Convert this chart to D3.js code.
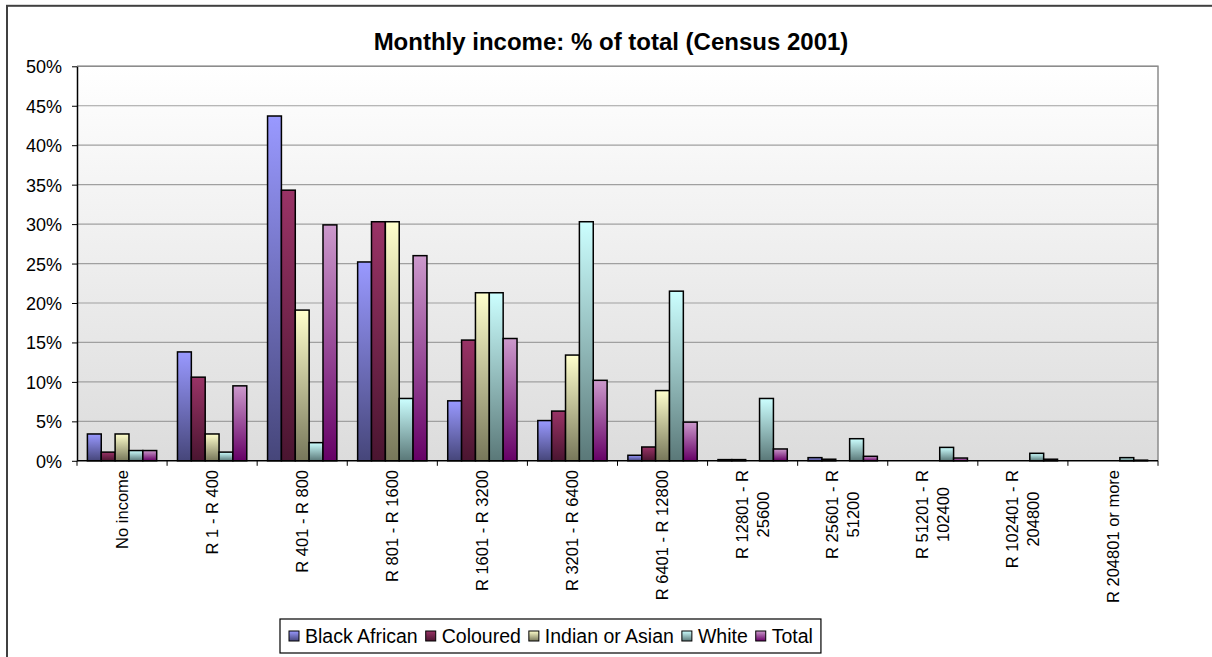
<!DOCTYPE html>
<html>
<head>
<meta charset="utf-8">
<script src="https://cdn.jsdelivr.net/npm/d3@7/dist/d3.min.js"></script>
<style>
  html, body { margin: 0; padding: 0; background: #ffffff; }
  svg { display: block; font-family: "Liberation Sans", Arial, sans-serif; }
</style>
</head>
<body>
<svg id="chart" width="1212" height="657"></svg>
<script>
// Income bands (Census 2001); "\n" marks where a tick label wraps
const categories = [
  "No income", "R 1 - R 400", "R 401 - R 800", "R 801 - R 1600",
  "R 1601 - R 3200", "R 3201 - R 6400", "R 6401 - R 12800",
  "R 12801 - R\n25600", "R 25601 - R\n51200", "R 51201 - R\n102400",
  "R 102401 - R\n204800", "R 204801 or more"
];

const seriesNames = ["Black African", "Coloured", "Indian or Asian", "White", "Total"];

// Share of each population group in each income band, in percent
const blackAfrican = [3.4, 13.8, 43.7, 25.2, 7.6, 5.1, 0.7, 0.15, 0.4, 0, 0, 0];
const coloured     = [1.1, 10.6, 34.3, 30.3, 15.3, 6.3, 1.75, 0.15, 0.2, 0, 0, 0];
const indianAsian  = [3.4, 3.4, 19.1, 30.3, 21.3, 13.4, 8.9, 0, 0, 0, 0, 0];
const white        = [1.3, 1.1, 2.3, 7.9, 21.3, 30.3, 21.5, 7.9, 2.8, 1.7, 0.95, 0.4];
const total        = [1.3, 9.5, 29.9, 26.0, 15.5, 10.2, 4.9, 1.5, 0.57, 0.35, 0.2, 0.08];

const yTicks = [0, 5, 10, 15, 20, 25, 30, 35, 40, 45, 50];

const seriesValues = [blackAfrican, coloured, indianAsian, white, total];

// Light (top) and dark (bottom) stop of each series' bar gradient
const lightColors = ["#9999ff", "#993366", "#ffffcc", "#ccffff", "#cc99cc"];
const darkColors  = ["#46467a", "#4a1530", "#77775a", "#5a7878", "#660066"];

const svg = d3.select("#chart");
const defs = svg.append("defs");

const plotGrad = defs.append("linearGradient")
  .attr("id", "plotBg").attr("x1", 0).attr("y1", 0).attr("x2", 0).attr("y2", 1);
plotGrad.append("stop").attr("offset", "0%").attr("stop-color", "#ffffff");
plotGrad.append("stop").attr("offset", "100%").attr("stop-color", "#dcdcdc");

seriesNames.forEach((s, i) => {
  const g = defs.append("linearGradient")
    .attr("id", "grad" + i).attr("x1", 0).attr("y1", 0).attr("x2", 0).attr("y2", 1);
  g.append("stop").attr("offset", "0%").attr("stop-color", lightColors[i]);
  g.append("stop").attr("offset", "100%").attr("stop-color", darkColors[i]);
});

// Outer chart frame
svg.append("rect")
  .attr("x", 7).attr("y", 5.8).attr("width", 1240).attr("height", 700)
  .attr("fill", "#ffffff").attr("stroke", "#404040").attr("stroke-width", 2);

const plot = { left: 77, right: 1158, top: 66.3, bottom: 460.8 };

const x0 = d3.scaleBand().domain(categories).range([plot.left, plot.right])
  .paddingInner(0).paddingOuter(0);
const x1 = d3.scaleBand().domain(seriesNames).range([0, x0.bandwidth()])
  .paddingInner(0).paddingOuter(0.75);
const y = d3.scaleLinear().domain([0, 50]).range([plot.bottom, plot.top]);

// Plot area
svg.append("rect")
  .attr("x", plot.left).attr("y", plot.top)
  .attr("width", plot.right - plot.left).attr("height", plot.bottom - plot.top)
  .attr("fill", "url(#plotBg)");

// Horizontal gridlines
svg.append("g").selectAll("line").data(yTicks.filter(t => t > 0)).join("line")
  .attr("x1", plot.left).attr("x2", plot.right)
  .attr("y1", d => y(d)).attr("y2", d => y(d))
  .attr("stroke", "#a0a0a0").attr("stroke-width", 1.2);

// Plot border (top and right)
svg.append("path")
  .attr("d", `M${plot.left},${plot.top}H${plot.right}V${plot.bottom}`)
  .attr("fill", "none").attr("stroke", "#8c8c8c").attr("stroke-width", 1.5);

// Bars
const groups = svg.append("g").selectAll("g").data(categories).join("g")
  .attr("transform", d => `translate(${x0(d)},0)`);

groups.selectAll("rect")
  .data((c, ci) => seriesNames.map((s, si) => ({ s, si, v: seriesValues[si][ci] })))
  .join("rect")
  .filter(d => d.v > 0)
  .attr("x", d => x1(d.s))
  .attr("y", d => y(d.v))
  .attr("width", x1.bandwidth())
  .attr("height", d => y(0) - y(d.v))
  .attr("fill", d => `url(#grad${d.si})`)
  .attr("stroke", "#000000").attr("stroke-width", 1.5);

// Y axis
const yAxis = svg.append("g")
  .attr("transform", `translate(${plot.left},0)`)
  .call(d3.axisLeft(y).tickValues(yTicks).tickFormat(d => d + "%").tickSize(5).tickSizeOuter(0));
yAxis.select(".domain").attr("stroke", "#000").attr("stroke-width", 1.5);
yAxis.selectAll(".tick line").attr("stroke", "#000");
yAxis.selectAll(".tick text")
  .attr("x", -15).attr("dy", "0.36em")
  .attr("font-size", 18).attr("fill", "#000")
  .style("font-family", '"Liberation Sans", Arial, sans-serif');

// X axis line and ticks at category boundaries
const xAxis = svg.append("g");
xAxis.append("line")
  .attr("x1", plot.left).attr("x2", plot.right)
  .attr("y1", plot.bottom).attr("y2", plot.bottom)
  .attr("stroke", "#000").attr("stroke-width", 1.5);
const boundaries = categories.map(c => x0(c)).concat([x0.range()[1]]);
xAxis.selectAll("line.tick").data(boundaries).join("line")
  .attr("class", "tick")
  .attr("x1", d => d).attr("x2", d => d)
  .attr("y1", plot.bottom).attr("y2", plot.bottom + 5)
  .attr("stroke", "#000").attr("stroke-width", 1);

// Rotated category labels
const labelTop = 470;
const lineGap = 21;
categories.forEach(c => {
  const lines = c.split("\n");
  const cx = x0(c) + x0.bandwidth() / 2;
  const tmp = svg.append("g");
  const widths = lines.map(l => {
    const t = tmp.append("text").attr("font-size", 16.5).text(l);
    return t.node().getComputedTextLength();
  });
  tmp.remove();
  const maxW = d3.max(widths);
  const cy = labelTop + maxW / 2;
  lines.forEach((l, li) => {
    const offset = (li - (lines.length - 1) / 2) * lineGap;
    svg.append("text")
      .attr("transform", `translate(${cx + offset},${cy}) rotate(-90)`)
      .attr("text-anchor", "middle")
      .attr("dy", "0.35em")
      .attr("font-size", 16.5).attr("fill", "#000")
      .text(l);
  });
});

// Title
svg.append("text")
  .attr("x", 611).attr("y", 49.5)
  .attr("text-anchor", "middle")
  .attr("font-size", 24).attr("font-weight", "bold").attr("fill", "#000")
  .text("Monthly income: % of total (Census 2001)");

// Legend
const legend = svg.append("g");
const legendBox = legend.append("rect")
  .attr("y", 619).attr("height", 34)
  .attr("fill", "#ffffff").attr("stroke", "#000").attr("stroke-width", 1.2);
let lx = 289;
seriesNames.forEach((s, i) => {
  legend.append("rect")
    .attr("x", lx).attr("y", 631).attr("width", 10).attr("height", 10)
    .attr("fill", `url(#grad${i})`).attr("stroke", "#000").attr("stroke-width", 1);
  const t = legend.append("text")
    .attr("x", lx + 16).attr("y", 643)
    .attr("font-size", 19.5).attr("fill", "#000")
    .text(s);
  lx += 16 + t.node().getComputedTextLength() + 8;
});
legendBox.attr("x", 280).attr("width", lx - 280);
</script>
</body>
</html>
